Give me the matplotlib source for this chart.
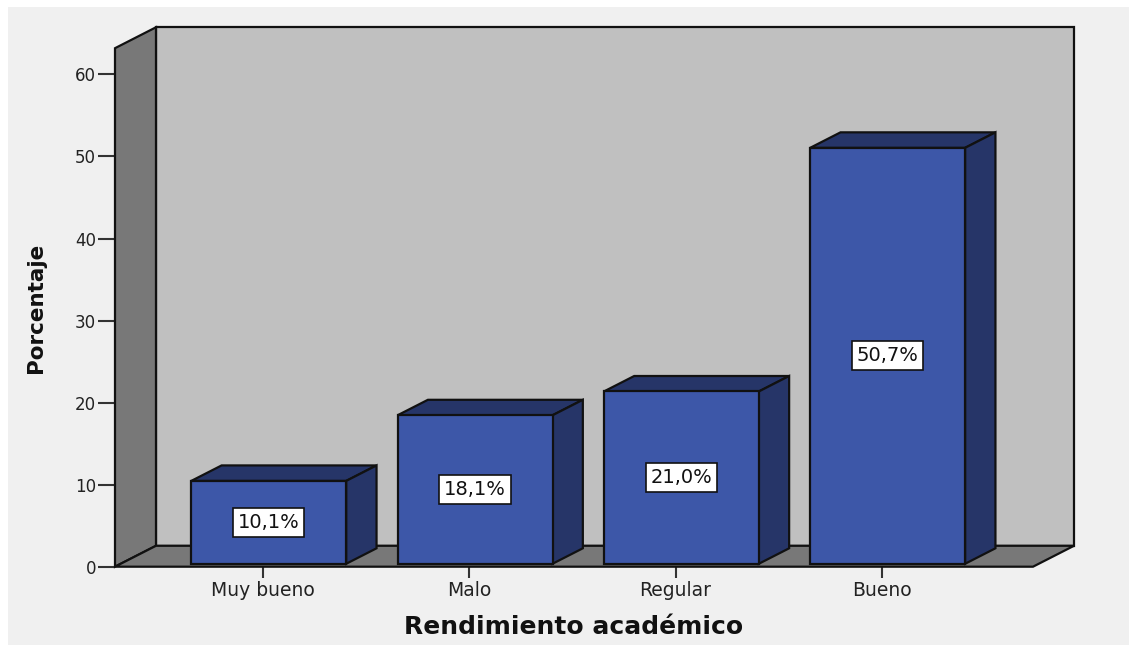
import matplotlib
matplotlib.use("Agg")
import matplotlib.pyplot as plt
from matplotlib.patches import Polygon, Rectangle

# datos del grafico
categorias = ["Muy bueno", "Malo", "Regular", "Bueno"]
porcentajes = [10.1, 18.1, 21.0, 50.7]
y_ticks = [0, 10, 20, 30, 40, 50, 60]

# estilo 3D tipo SPSS
color_frente = "#3D57A8"
color_lado = "#263568"
color_fondo = "#C0C0C0"
color_pared = "#787878"
color_panel = "#F0F0F0"

ymax = 63.2
xlim = (-0.7174, 3.7324)
prof = (0.1987, 2.55)      # profundidad del piso (x, y) en unidades de datos
ancho = 0.751
f0, f1 = 0.14, 0.88        # profundidad de las barras (fraccion)

fig = plt.figure(figsize=(11.29, 6.45), dpi=100)
fig.patch.set_facecolor("white")
fig.patches.append(Rectangle((8 / 1129, 0), 1, 1 - 7 / 645, transform=fig.transFigure,
                             facecolor=color_panel, edgecolor="none", zorder=-5))

ax = fig.add_axes([115 / 1129, (645 - 566.7) / 645, 918 / 1129, 518.5 / 645])
ax.set_facecolor("none")
ax.set_xlim(*xlim)
ax.set_ylim(0, ymax)
for s in ax.spines.values():
    s.set_visible(False)

x0, x1 = xlim
dx, dy = prof
kw = dict(edgecolor="#111111", linewidth=1.6, clip_on=False, joinstyle="miter")

# pared del fondo, pared izquierda y piso
ax.add_patch(Rectangle((x0 + dx, dy), x1 - x0, ymax, facecolor=color_fondo, zorder=1, **kw))
ax.add_patch(Polygon([(x0, 0), (x0 + dx, dy), (x0 + dx, dy + ymax), (x0, ymax)],
                     facecolor=color_pared, zorder=2, **kw))
ax.add_patch(Polygon([(x0, 0), (x1, 0), (x1 + dx, dy), (x0 + dx, dy)],
                     facecolor=color_pared, zorder=2, **kw))

# barras
for i, v in enumerate(porcentajes):
    fx, fy = f0 * dx, f0 * dy
    bx, by = f1 * dx, f1 * dy
    l = i - ancho / 2
    r = i + ancho / 2
    ax.add_patch(Polygon([(l + fx, fy + v), (r + fx, fy + v), (r + bx, by + v), (l + bx, by + v)],
                         facecolor=color_lado, zorder=3, **kw))
    ax.add_patch(Polygon([(r + fx, fy), (r + bx, by), (r + bx, by + v), (r + fx, fy + v)],
                         facecolor=color_lado, zorder=3, **kw))
    ax.add_patch(Rectangle((l + fx, fy), ancho, v, facecolor=color_frente, zorder=4, **kw))
    etiqueta = f"{v:.1f}".replace(".", ",") + "%"
    ax.text(i + fx, fy + v / 2, etiqueta, ha="center", va="center", fontsize=14,
            color="#111111", zorder=5,
            bbox=dict(boxstyle="square,pad=0.25", facecolor="white", edgecolor="#111111", linewidth=1.2))

ax.set_yticks(y_ticks)
ax.set_yticklabels([str(t) for t in y_ticks], fontsize=12, color="#222222")
ax.tick_params(axis="y", length=12, width=1.5, color="#333333", pad=1.5)
ax.set_xticks(range(len(categorias)))
ax.set_xticklabels(categorias, fontsize=13.5, color="#222222")
ax.tick_params(axis="x", length=8, width=1.5, color="#333333", pad=2)

ax.set_ylabel("Porcentaje", fontsize=15.5, fontweight="bold", color="#111111")
ax.yaxis.set_label_coords(-0.075, 0.5)
ax.set_xlabel("Rendimiento académico", fontsize=18, fontweight="bold", color="#111111",
              va="center")
ax.xaxis.set_label_coords(0.5, -0.116)

fig.savefig("out.png", dpi=100, facecolor=fig.get_facecolor())
